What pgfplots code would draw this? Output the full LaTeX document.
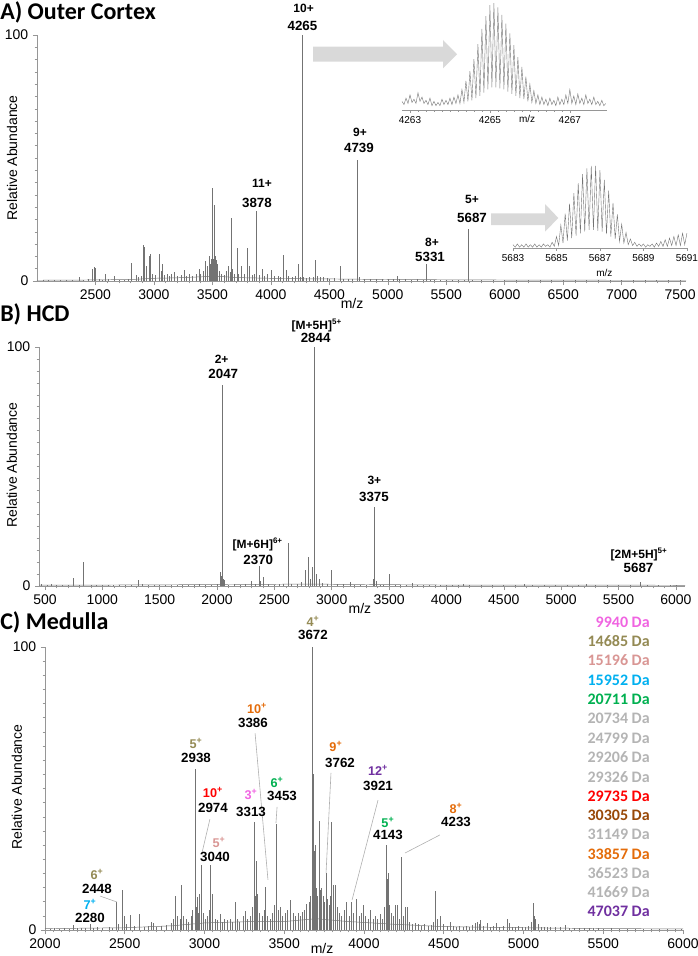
\documentclass[border=0pt]{standalone}
\usepackage{fontspec}
\setmainfont{Liberation Sans}
\newfontfamily\calibri{Carlito}
\usepackage{pgfplots}
\pgfplotsset{compat=1.18}
\definecolor{spec}{RGB}{115,115,115}
\definecolor{axgray}{RGB}{150,150,150}
\definecolor{arrowgray}{RGB}{217,217,217}
\definecolor{leader}{RGB}{175,175,175}
\definecolor{cpink}{RGB}{240,100,225}
\definecolor{colive}{RGB}{148,138,84}
\definecolor{crose}{RGB}{217,150,148}
\definecolor{cblue}{RGB}{0,176,240}
\definecolor{cgreen}{RGB}{0,176,80}
\definecolor{cgray}{RGB}{180,180,180}
\definecolor{cred}{RGB}{255,0,0}
\definecolor{cbrown}{RGB}{152,72,7}
\definecolor{corange}{RGB}{228,108,10}
\definecolor{cpurple}{RGB}{112,48,160}
\pgfplotsset{
  specaxis/.style={
    scale only axis, anchor=south west, clip=false,
    axis lines*=left,
    ymin=0, ymax=100, ytick={0,100}, minor y tick num=19,
    tick align=outside, major tick length=3pt, minor tick length=1.8pt,
    axis line style={axgray, line width=0.5pt},
    tick style={axgray, line width=0.4pt},
    tick label style={font=\fontsize{10.5}{12}\selectfont, text=black},
    /pgf/number format/1000 sep={},
    /pgf/number format/assume math mode=true,
    ylabel={Relative Abundance},
    ylabel style={font=\fontsize{10.5}{12}\selectfont, anchor=center},
  },
  insetaxis/.style={
    scale only axis, anchor=south west, clip=false,
    axis x line*=bottom, axis y line=none,
    ymin=0, ymax=100,
    tick align=outside, major tick length=2pt, minor tick length=1.2pt,
    axis line style={axgray, line width=0.5pt},
    tick style={axgray, line width=0.4pt},
    tick label style={font=\fontsize{7.5}{8}\selectfont, text=black},
    xticklabel style={yshift=1pt},
    /pgf/number format/1000 sep={},
    /pgf/number format/assume math mode=true,
  },
}
\tikzset{
  lab/.style={font=\bfseries\fontsize{10}{11}\selectfont, inner sep=0pt},
  chg/.style={font=\bfseries\fontsize{9}{10}\selectfont, inner sep=0pt},
  cchg/.style={font=\bfseries\fontsize{9.5}{10}\selectfont, inner sep=0pt},
  leg/.style={font=\calibri\bfseries\fontsize{12}{13}\selectfont, inner sep=0pt, anchor=east},
}
\begin{document}
\begin{tikzpicture}
\path[use as bounding box] (0pt,0pt) rectangle (523.5pt,-717pt);

% ---------------- Panel A ----------------
\node[anchor=west, inner sep=0pt, font=\calibri\bfseries\fontsize{18}{20}\selectfont] at (0pt,-9pt) {A) Outer Cortex};
\begin{axis}[specaxis,
  at={(27.75pt,-210.75pt)}, width=486.75pt, height=184.5pt,
  xmin=2000, xmax=7550, xtick={2500,3000,...,7500}, minor x tick num=4,
  ylabel style={at={(axis description cs:-0.0385,0.5)}},
]
\addplot[spec, line width=0.35pt] coordinates {(2000,0.3)(2400,0.4)(2800,0.6)(3000,1.1)(3200,1.3)(3450,1.8)(3550,1.9)(3700,1.4)(4000,1.1)(4300,0.9)(4600,0.8)(5000,0.6)(5500,0.5)(6000,0.4)(7000,0.3)(7550,0.3)};
\addplot[ycomb, spec, line width=0.45pt, mark=none] coordinates {
(2050,0.3)(2100,0.4)(2150,0.3)(2200,0.5)(2250,0.3)(2300,0.4)(2362,1.8)(2400,0.5)(2440,0.8)(2470,4.7)(2490,5.8)(2500,5.2)(2530,1)(2560,0.6)(2583,3)(2610,1)(2660,2)(2700,0.6)(2750,0.5)(2780,0.8)
(2810,7.5)(2845,2.5)(2870,1.5)(2890,2)(2910,14.6)(2921,14)(2935,6)(2958,10)(2972,11)(2990,3)(3010,2.5)(3043,11)(3060,4)(3072,7)(3090,2.5)(3110,3)(3130,2)(3150,3)(3171,3.8)(3200,2)
(3230,2.5)(3256,4.5)(3280,2)(3300,3)(3330,2)(3360,3)(3384,5)(3400,3)(3420,4)(3441,8)(3455,6)(3470,10)(3480,7)(3490,9)(3498,37.7)(3507,9)(3515,31)(3524,10)(3532,8.5)(3540,6)
(3546,7)(3560,4)(3580,3)(3600,2.5)(3620,4)(3640,6)(3650,3.5)(3660,25.5)(3672,5)(3690,3)(3711,13.3)(3725,3)(3748,6)(3770,3)(3796,13.3)(3816,6)(3840,2.5)(3860,3)(3878,28.6)(3900,2.5)
(3924,5)(3945,2)(3970,3)(4004,4.5)(4030,2)(4060,2)(4080,1.5)(4109,10.6)(4131,4.5)(4150,2)(4180,1.5)(4205,2)(4231,7)(4250,1.5)(4265,100)(4280,1.5)(4300,1.2)(4330,1.5)(4360,1.5)(4379,8.5)
(4400,2)(4420,1.5)(4450,1.5)(4480,1.2)(4500,1)(4540,1.2)(4592,6)(4620,1)(4660,1)(4700,0.8)(4739,49)(4760,1.5)(4800,0.8)(4850,0.8)(4900,0.7)(4950,0.8)(5000,0.7)(5050,0.8)(5082,2)(5100,1)
(5150,0.7)(5200,0.6)(5250,0.7)(5300,0.6)(5331,7)(5360,0.6)(5400,0.5)(5450,0.6)(5500,0.5)(5550,0.5)(5600,0.5)(5650,0.4)(5687,21)(5720,0.4)(5800,0.4)(5900,0.4)(6000,0.4)(6100,0.3)(6200,0.4)(6300,0.3)
(6400,0.3)(6500,0.3)(6600,0.3)(6700,0.3)(6800,0.3)(6900,0.3)(7000,0.3)(7100,0.3)(7200,0.3)(7300,0.3)(7400,0.3)(7500,0.3)};
\node[chg] at (axis cs:4280,111) {10+};
\node[lab] at (axis cs:4270,103.7) {4265};
\node[chg] at (axis cs:3924,39.8) {11+};
\node[lab] at (axis cs:3881,31.7) {3878};
\node[chg] at (axis cs:4762,60.6) {9+};
\node[lab] at (axis cs:4753,54) {4739};
\node[chg] at (axis cs:5378,15.9) {8+};
\node[lab] at (axis cs:5361,9.8) {5331};
\node[chg] at (axis cs:5720,33.3) {5+};
\node[lab] at (axis cs:5720,25.6) {5687};
\node[font=\fontsize{10.5}{12}\selectfont, inner sep=0pt] at (axis cs:4694,-9.3) {m/z};
\end{axis}

% arrows
\fill[arrowgray] (234.75pt,-35pt) -- (332.25pt,-35pt) -- (332.25pt,-30pt) -- (342.75pt,-40.7pt) -- (332.25pt,-51.2pt) -- (332.25pt,-46.3pt) -- (234.75pt,-46.3pt) -- cycle;
\fill[arrowgray] (368.25pt,-160pt) -- (408.75pt,-160pt) -- (408.75pt,-153pt) -- (418.75pt,-163.5pt) -- (408.75pt,-173.75pt) -- (408.75pt,-168.75pt) -- (368.25pt,-168.75pt) -- cycle;

% inset 1
\begin{axis}[insetaxis,
  at={(301.5pt,-82.5pt)}, width=153.75pt, height=81pt,
  xmin=4262.8, xmax=4267.93, xtick={4263,4265,4267}, minor x tick num=9,
]
\addplot[spec, line width=0.3pt] coordinates {
(4262.80,8)(4262.85,5)(4262.90,11)(4262.95,6)(4263.00,14)(4263.05,7)(4263.10,10)(4263.15,6)(4263.20,16)(4263.25,8)(4263.30,12)(4263.35,6)(4263.40,9)(4263.45,5)(4263.50,11)(4263.55,4)(4263.60,8)(4263.65,4)(4263.70,7)(4263.75,4)
(4263.80,10)(4263.85,5)(4263.90,9)(4263.95,5)(4264.00,11)(4264.05,5)(4264.10,12)(4264.15,6)(4264.20,14)(4264.25,6)(4264.30,19)(4264.35,7)(4264.40,27)(4264.45,8)(4264.50,36)(4264.55,9)(4264.60,47)(4264.65,11)(4264.70,61)(4264.75,13)
(4264.80,75)(4264.85,16)(4264.90,87)(4264.95,19)(4265.00,97)(4265.05,21)(4265.10,99)(4265.15,21)(4265.20,95)(4265.25,20)(4265.30,88)(4265.35,19)(4265.40,80)(4265.45,17)(4265.50,71)(4265.55,15)(4265.60,60)(4265.65,13)(4265.70,49)(4265.75,11)
(4265.80,40)(4265.85,10)(4265.90,31)(4265.95,8)(4266.00,24)(4266.05,7)(4266.10,18)(4266.15,6)(4266.20,14)(4266.25,5)(4266.30,12)(4266.35,5)(4266.40,10)(4266.45,4)(4266.50,11)(4266.55,5)(4266.60,9)(4266.65,4)(4266.70,12)(4266.75,5)
(4266.80,10)(4266.85,5)(4266.90,14)(4266.95,6)(4267.00,19)(4267.05,6)(4267.10,13)(4267.15,5)(4267.20,15)(4267.25,6)(4267.30,11)(4267.35,5)(4267.40,14)(4267.45,6)(4267.50,10)(4267.55,5)(4267.60,12)(4267.65,5)(4267.70,8)(4267.75,4)
(4267.80,9)(4267.85,4)(4267.90,6)};
\node[font=\fontsize{7.5}{8}\selectfont, inner sep=0pt] at (axis cs:4265.93,-8.5) {m/z};
\end{axis}

% inset 2
\begin{axis}[insetaxis,
  at={(384.75pt,-186pt)}, width=131.25pt, height=61.5pt,
  xmin=5683, xmax=5691.05, xtick={5683,5685,...,5691}, minor x tick num=7,
]
\addplot[spec, line width=0.3pt] coordinates {
(5683.0,4)(5683.1,1)(5683.2,5)(5683.3,1)(5683.4,4)(5683.5,1)(5683.6,5)(5683.7,1)(5683.8,4)(5683.9,1)(5684.0,5)(5684.1,1)(5684.2,4)(5684.3,1)(5684.4,5)(5684.5,2)(5684.6,4)(5684.7,1)(5684.8,7)(5684.9,2)
(5685.0,14)(5685.1,3)(5685.2,28)(5685.3,6)(5685.4,42)(5685.5,9)(5685.6,54)(5685.7,12)(5685.8,67)(5685.9,15)(5686.0,79)(5686.1,18)(5686.2,90)(5686.3,20)(5686.4,97)(5686.5,22)(5686.6,100)(5686.7,22)(5686.8,100)(5686.9,21)
(5687.0,95)(5687.1,20)(5687.2,83)(5687.3,17)(5687.4,70)(5687.5,14)(5687.6,55)(5687.7,11)(5687.8,41)(5687.9,8)(5688.0,29)(5688.1,6)(5688.2,19)(5688.3,4)(5688.4,11)(5688.5,3)(5688.6,7)(5688.7,2)(5688.8,5)(5688.9,2)
(5689.0,5)(5689.1,1)(5689.2,4)(5689.3,2)(5689.4,5)(5689.5,1)(5689.6,6)(5689.7,2)(5689.8,8)(5689.9,2)(5690.0,10)(5690.1,2)(5690.2,12)(5690.3,3)(5690.4,14)(5690.5,3)(5690.6,16)(5690.7,3)(5690.8,18)(5690.9,4)(5691.0,18)};
\node[font=\fontsize{7.5}{8}\selectfont, inner sep=0pt] at (axis cs:5687.2,-30) {m/z};
\end{axis}

% ---------------- Panel B ----------------
\node[anchor=west, inner sep=0pt, font=\calibri\bfseries\fontsize{18}{20}\selectfont] at (0pt,-236pt) {B) HCD};
\begin{axis}[specaxis,
  at={(29.25pt,-439.5pt)}, width=484.5pt, height=179.25pt,
  xmin=448, xmax=6080, xtick={500,1000,...,6000}, minor x tick num=4,
  ylabel style={at={(axis description cs:-0.042,0.506)}},
]
\addplot[spec, line width=0.35pt] coordinates {(448,0.4)(1000,0.4)(2000,0.6)(2800,0.8)(3400,0.6)(4000,0.4)(5000,0.4)(6080,0.3)};
\addplot[ycomb, spec, line width=0.45pt, mark=none] coordinates {
(470,0.8)(520,0.5)(553,0.7)(600,0.5)(650,0.4)(700,0.4)(745,3.3)(800,0.5)(835,10)(900,0.5)(950,0.4)(1000,0.5)(1050,0.4)(1100,0.4)(1150,0.3)(1200,0.4)(1250,0.5)(1310,2.4)(1350,0.8)(1400,0.4)
(1450,0.4)(1500,0.4)(1550,0.3)(1600,0.4)(1650,0.3)(1700,0.4)(1750,0.4)(1800,0.6)(1846,0.9)(1900,0.5)(1950,0.5)(2000,0.8)(2028,6)(2035,4)(2047,84)(2055,3)(2066,2.4)(2100,0.6)(2150,0.8)(2200,0.6)
(2250,0.7)(2298,2)(2330,1)(2370,8.2)(2380,2)(2406,3.8)(2450,0.7)(2500,0.6)(2540,1)(2580,0.8)(2618,18)(2650,0.8)(2700,1)(2734,1.5)(2773,6.5)(2792,12)(2810,3)(2830,8)(2844,100)(2852,4)
(2866,5)(2888,3)(2920,1.2)(2960,1)(2996,6.5)(3050,0.8)(3100,0.7)(3158,1.5)(3200,0.6)(3250,0.5)(3300,0.6)(3360,3)(3375,33)(3385,2)(3420,0.6)(3450,0.6)(3498,5)(3550,0.5)(3600,0.5)(3650,0.4)
(3699,1.2)(3750,0.5)(3800,0.4)(3850,0.4)(3900,0.4)(3950,0.4)(4000,0.4)(4050,0.5)(4100,0.6)(4143,0.9)(4200,0.4)(4300,0.4)(4400,0.4)(4500,0.4)(4600,0.4)(4683,0.9)(4750,0.4)(4850,0.4)(4950,0.4)(5050,0.4)
(5150,0.4)(5216,0.8)(5300,0.4)(5400,0.4)(5500,0.4)(5600,0.4)(5687,1.5)(5750,0.4)(5850,0.4)(5950,0.4)(6000,0.3)};
\node[chg] at (axis cs:2870,109) {[M+5H]\textsuperscript{5+}};
\node[lab] at (axis cs:2860,104) {2844};
\node[chg] at (axis cs:2040,95) {2+};
\node[lab] at (axis cs:2055,88.7) {2047};
\node[chg] at (axis cs:2355,17.2) {[M+6H]\textsuperscript{6+}};
\node[lab] at (axis cs:2360,10.9) {2370};
\node[chg] at (axis cs:3372,44.4) {3+};
\node[lab] at (axis cs:3368,37.2) {3375};
\node[chg] at (axis cs:5680,13) {[2M+5H]\textsuperscript{5+}};
\node[lab] at (axis cs:5675,7.5) {5687};
\node[font=\fontsize{10.5}{12}\selectfont, inner sep=0pt] at (axis cs:3246,-9.2) {m/z};
\end{axis}

% ---------------- Panel C ----------------
\node[anchor=west, inner sep=0pt, font=\calibri\bfseries\fontsize{18}{20}\selectfont] at (0pt,-466.5pt) {C) Medulla};
\begin{axis}[specaxis,
  at={(33.75pt,-697.5pt)}, width=478.5pt, height=212.25pt,
  xmin=2000, xmax=6000, xtick={2000,2500,...,6000}, minor x tick num=9,
  ylabel style={at={(axis description cs:-0.044,0.505)}},
]
\addplot[spec, line width=0.35pt] coordinates {(2000,0.5)(2500,0.8)(2800,1.5)(3000,2.5)(3300,3)(3500,3)(3700,4)(3900,3)(4200,2)(4500,1.2)(5000,0.8)(5500,0.5)(6000,0.4)};
\addplot[ycomb, spec, line width=0.4pt, mark=none] coordinates {
(2030,0.5)(2060,0.6)(2090,0.4)(2120,0.7)(2150,0.5)(2178,1.8)(2200,0.6)(2230,0.8)(2255,0.6)(2282,2)(2300,0.8)(2330,0.9)(2360,0.7)(2400,1)(2420,0.8)(2449,9.8)(2460,2)(2487,14)(2495,5)(2510,2)
(2533,5.4)(2560,1.5)(2591,5.7)(2620,1.2)(2650,1.5)(2669,2.7)(2680,2.5)(2700,1.2)(2730,1.5)(2760,1.8)(2790,2.5)(2805,4)(2819,12)(2830,5)(2845,4)(2857,16)(2870,5)(2885,4)(2900,3)(2915,5)
(2925,7)(2940,57)(2948,8)(2955,11.8)(2962,6)(2968,12.7)(2978,23)(2990,6)(3005,4)(3020,5)(3030,7)(3039,23)(3051,12.7)(3065,4)(3080,3.5)(3097,5.7)(3110,3)(3125,4)(3140,3.5)(3160,4)
(3175,3)(3191,10)(3205,4)(3220,3)(3240,5)(3254,6.8)(3270,4)(3285,5)(3300,8)(3312,38)(3318,12)(3323,24.5)(3331,12.7)(3345,6)(3360,5)(3372,7)(3384,15.3)(3395,5)(3410,4)(3425,6)
(3438,9)(3448,37.5)(3460,7)(3473,8)(3490,5)(3505,6)(3520,7)(3540,10.6)(3555,6)(3570,5)(3585,6)(3600,5)(3615,6.2)(3628,7)(3640,9.2)(3655,10)(3665,12)(3674,100)(3678,30)(3682,55)
(3687,28)(3693,30)(3700,15)(3708,12)(3718,38.5)(3726,14)(3734,15)(3745,12)(3752,10)(3762,20)(3770,11)(3780,9)(3790,12)(3797,38)(3805,16)(3818,16)(3830,8)(3845,6)(3860,5)(3875,7)
(3891,10)(3905,5)(3923,10)(3935,6)(3954,11)(3970,5)(3985,6)(3996,9)(4010,5)(4025,4)(4038,7)(4055,4)(4070,5)(4085,4)(4100,5.7)(4115,4)(4130,8)(4142,30)(4148,18)(4153,20)
(4160,9)(4170,6)(4185,5)(4198,9)(4209,9)(4220,4)(4232,25.7)(4245,5)(4261,8)(4271,8)(4285,3)(4300,2)(4320,2.5)(4340,2)(4360,1.5)(4380,2)(4400,1.5)(4420,1.8)(4435,3)(4449,13.7)
(4460,4)(4480,5)(4500,2)(4520,1.5)(4539,3)(4560,1.5)(4580,1.2)(4600,1.5)(4620,1.2)(4640,1.5)(4660,1.2)(4680,1.8)(4700,2.5)(4710,3)(4720,2)(4731,3.5)(4750,1.5)(4770,2.5)(4790,1.2)(4810,1.5)
(4830,2.5)(4850,1.2)(4870,1.5)(4898,4)(4910,2.5)(4930,1.2)(4950,1)(4970,1.5)(4990,1)(5010,1.2)(5030,1.5)(5050,3)(5061,9.4)(5070,5)(5076,4)(5090,2)(5110,1.2)(5130,1)(5150,1.2)(5170,1)
(5200,1)(5230,0.9)(5264,1.8)(5290,0.8)(5320,0.7)(5350,0.8)(5380,0.6)(5410,0.7)(5440,0.6)(5470,0.6)(5500,0.5)(5550,0.6)(5600,0.5)(5650,0.5)(5700,0.5)(5750,0.4)(5800,0.5)(5850,0.4)(5900,0.4)(5950,0.4)(5990,0.3)};
% leader lines
\draw[leader, line width=0.45pt] (axis cs:2345,12) -- (axis cs:2451,9.9);
\draw[leader, line width=0.45pt] (axis cs:3034,39.2) -- (axis cs:2984,27.2);
\draw[leader, line width=0.45pt] (axis cs:3317,69.6) -- (axis cs:3398,17.7);
\draw[leader, line width=0.45pt] (axis cs:3455,43.5) -- (axis cs:3448,37.8);
\draw[leader, line width=0.45pt] (axis cs:3793,55.5) -- (axis cs:3762,20.1);
\draw[leader, line width=0.45pt] (axis cs:4088,45.9) -- (axis cs:3925,10.6);
\draw[leader, line width=0.45pt] (axis cs:4476,33.6) -- (axis cs:4257,27.2);
% labels
\node[cchg, colive] at (axis cs:2326,19.6) {6\textsuperscript{+}};
\node[lab] at (axis cs:2326,14.5) {2448};
\node[cchg, cblue] at (axis cs:2282,9.1) {7\textsuperscript{+}};
\node[lab] at (axis cs:2282,4.2) {2280};
\node[cchg, colive] at (axis cs:2947,66) {5\textsuperscript{+}};
\node[lab] at (axis cs:2947,60.8) {2938};
\node[cchg, cred] at (axis cs:3053,48.7) {10\textsuperscript{+}};
\node[lab] at (axis cs:3053,43.1) {2974};
\node[cchg, crose] at (axis cs:3091,31) {5\textsuperscript{+}};
\node[lab] at (axis cs:3066,25.8) {3040};
\node[cchg, corange] at (axis cs:3329,78.4) {10\textsuperscript{+}};
\node[lab] at (axis cs:3304,73.1) {3386};
\node[cchg, cpink] at (axis cs:3292,47.9) {3\textsuperscript{+}};
\node[lab] at (axis cs:3292,41.7) {3313};
\node[cchg, cgreen] at (axis cs:3455,52.2) {6\textsuperscript{+}};
\node[lab] at (axis cs:3486,47.3) {3453};
\node[cchg, colive] at (axis cs:3680,109.1) {4\textsuperscript{+}};
\node[lab] at (axis cs:3680,104.2) {3672};
\node[cchg, corange] at (axis cs:3824,65) {9\textsuperscript{+}};
\node[lab] at (axis cs:3850,59) {3762};
\node[cchg, cpurple] at (axis cs:4088,56.5) {12\textsuperscript{+}};
\node[lab] at (axis cs:4088,50.9) {3921};
\node[cchg, cgreen] at (axis cs:4150,38.1) {5\textsuperscript{+}};
\node[lab] at (axis cs:4150,33.6) {4143};
\node[cchg, corange] at (axis cs:4577,43.1) {8\textsuperscript{+}};
\node[lab] at (axis cs:4577,38.2) {4233};
% mass list
\node[leg, cpink] at (axis cs:5793,108.8) {9940 Da};
\node[leg, colive] at (axis cs:5793,102.0) {14685 Da};
\node[leg, crose] at (axis cs:5793,95.2) {15196 Da};
\node[leg, cblue] at (axis cs:5793,88.3) {15952 Da};
\node[leg, cgreen] at (axis cs:5793,81.5) {20711 Da};
\node[leg, cgray] at (axis cs:5793,74.7) {20734 Da};
\node[leg, cgray] at (axis cs:5793,67.9) {24799 Da};
\node[leg, cgray] at (axis cs:5793,61.1) {29206 Da};
\node[leg, cgray] at (axis cs:5793,54.2) {29326 Da};
\node[leg, cred] at (axis cs:5793,47.4) {29735 Da};
\node[leg, cbrown] at (axis cs:5793,40.6) {30305 Da};
\node[leg, cgray] at (axis cs:5793,33.8) {31149 Da};
\node[leg, corange] at (axis cs:5793,27.0) {33857 Da};
\node[leg, cgray] at (axis cs:5793,20.1) {36523 Da};
\node[leg, cgray] at (axis cs:5793,13.3) {41669 Da};
\node[leg, cpurple] at (axis cs:5793,6.5) {47037 Da};
\node[font=\fontsize{10.5}{12}\selectfont, inner sep=0pt] at (axis cs:3737,-6.6) {m/z};
\end{axis}
\end{tikzpicture}
\end{document}
